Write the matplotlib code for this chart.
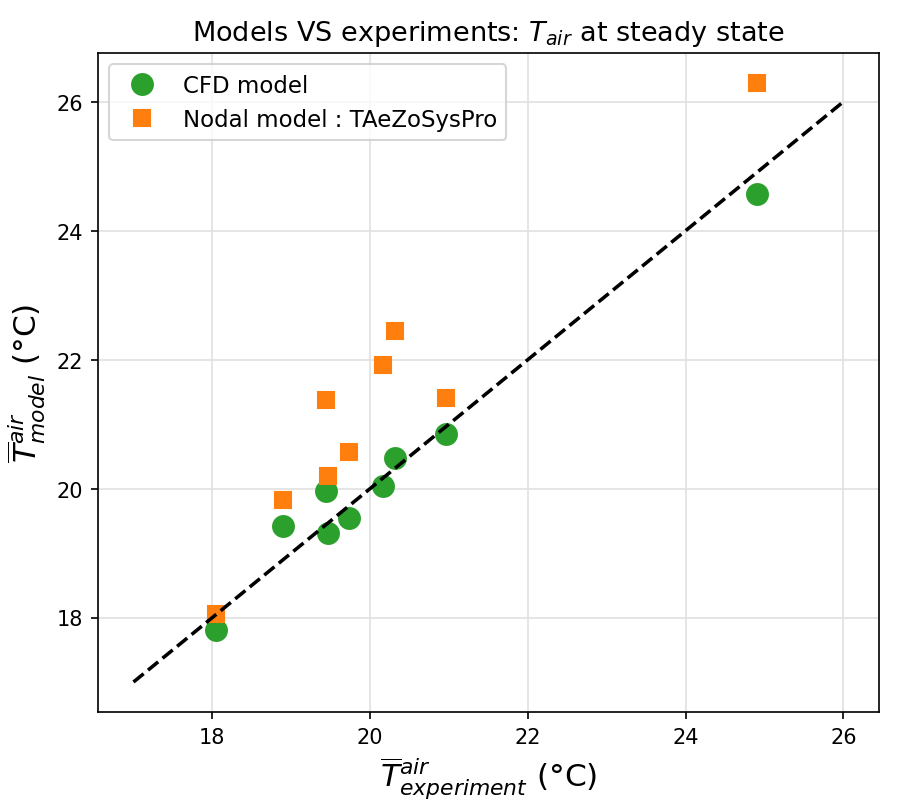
import numpy as np
import matplotlib
matplotlib.use("Agg")
import matplotlib.pyplot as plt

# measured vs modelled steady-state air temperatures
t_exp = [18.04, 18.90, 19.44, 19.47, 19.73, 20.16, 20.32, 20.96, 24.90]
t_cfd = [17.81, 19.42, 19.96, 19.31, 19.54, 20.04, 20.48, 20.84, 24.57]
t_nodal = [18.06, 19.83, 21.37, 20.20, 20.57, 21.92, 22.44, 21.40, 26.29]
ref_line = [17, 26]

fig = plt.figure(figsize=(6.02, 5.393), dpi=150)
ax = fig.add_axes([0.1085, 0.1187, 0.8649, 0.8146])

ax.plot(t_exp, t_cfd, "o", color="tab:green", markersize=10, label="CFD model")
ax.plot(t_exp, t_nodal, "s", color="tab:orange", markersize=7.5,
        label="Nodal model : TAeZoSysPro")
ax.plot(ref_line, ref_line, "k--", linewidth=1.7)

ax.set_title(r"Models VS experiments: $T_{air}$ at steady state", fontsize=13)
ax.set_xlabel(r"$\overline{T}^{air}_{experiment}$ (°C)", fontsize=15)
ax.set_ylabel(r"$\overline{T}^{air}_{model}$ (°C)", fontsize=15)
ax.grid(color="0.88", linewidth=0.8)
ax.set_axisbelow(True)
ax.legend(loc="upper left", fontsize=11)

fig.savefig("out.png", dpi=150)
